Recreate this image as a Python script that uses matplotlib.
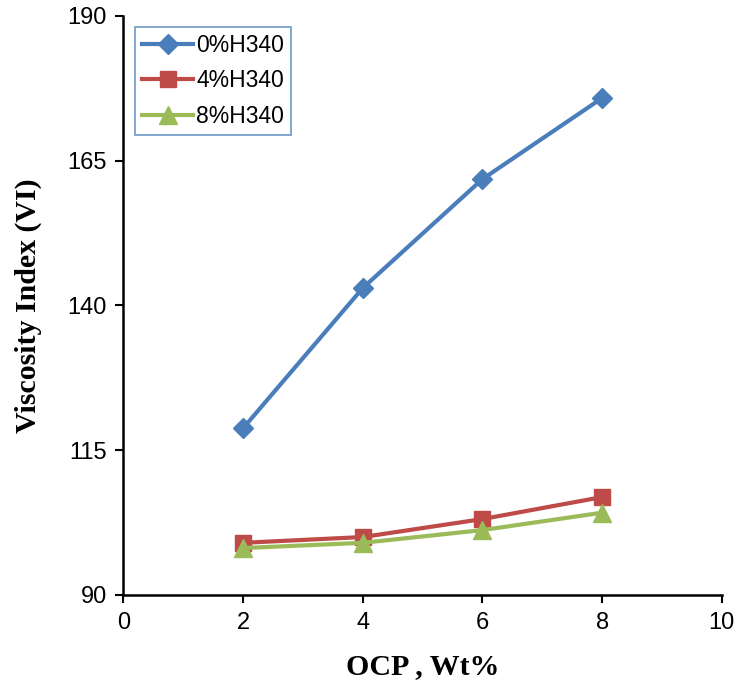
import matplotlib.pyplot as plt

ocp = [2, 4, 6, 8]
vi_0 = [118.8, 143.0, 161.8, 175.8]
vi_4 = [99.0, 100.0, 103.1, 106.9]
vi_8 = [98.1, 99.0, 101.2, 104.2]
labels = ["0%H340", "4%H340", "8%H340"]

plt.rcParams["font.family"] = ["Liberation Sans", "DejaVu Sans"]

fig = plt.figure(figsize=(7.35, 6.87), dpi=100)
ax = fig.add_axes([0.168, 0.134, 0.814, 0.843])

ax.plot(ocp, vi_0, color="#4A7EBB", lw=3, marker="D", ms=10, label=labels[0])
ax.plot(ocp, vi_4, color="#BE4B48", lw=3, marker="s", ms=12, label=labels[1])
ax.plot(ocp, vi_8, color="#9BBB59", lw=3, marker="^", ms=13, label=labels[2])

ax.set_xlim(0, 10)
ax.set_ylim(90, 190)
ax.set_xticks(range(0, 11, 2))
ax.set_yticks([90, 115, 140, 165, 190])
ax.tick_params(direction="out", length=6, width=1.5, labelsize=17, pad=6)
for s in ["left", "bottom"]:
    ax.spines[s].set_linewidth(1.8)
for s in ["top", "right"]:
    ax.spines[s].set_visible(False)

ax.set_xlabel("OCP , Wt%", family="Liberation Serif", fontweight="bold", fontsize=21.5, labelpad=14)
ax.set_ylabel("Viscosity Index (VI)", family="Liberation Serif", fontweight="bold", fontsize=21.5, labelpad=18)

leg = ax.legend(loc="upper left", bbox_to_anchor=(0.02, 0.981), borderaxespad=0, fontsize=16.5,
                frameon=True, fancybox=False, handlelength=2.2, handletextpad=0.15, borderpad=0.3,
                labelspacing=0.55)
leg.get_frame().set_edgecolor("#4A7EBB")
leg.get_frame().set_linewidth(1.2)

fig.savefig("out.png", dpi=100)
